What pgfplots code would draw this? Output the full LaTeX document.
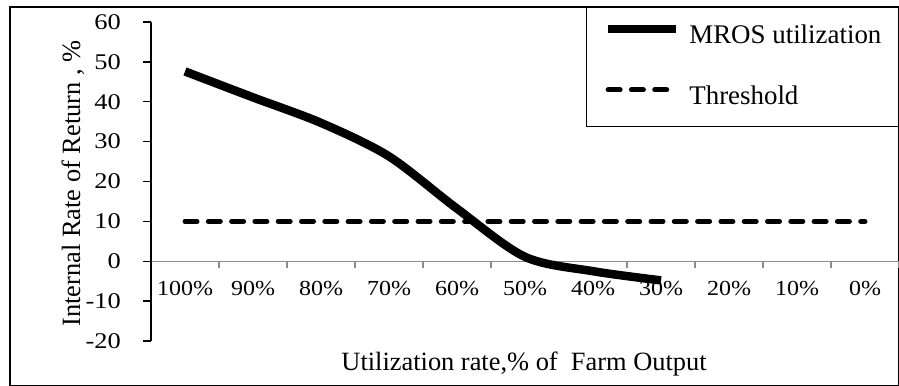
\documentclass[border=0pt]{standalone}
\usepackage{fontspec}
\setmainfont{Liberation Serif}
\newfontfamily\tickfont{Liberation Serif}[FakeStretch=1.12]
\newfontfamily\ytickfont{Liberation Serif}[FakeStretch=1.18]
\usepackage{pgfplots}
\pgfplotsset{compat=1.18}
\begin{document}
\begin{tikzpicture}
\useasboundingbox (0,0) rectangle (899bp,386bp);
\draw[line width=1.3bp] (10bp,0.6bp) rectangle (898.4bp,379bp);
\begin{axis}[
  at={(151bp,45bp)}, anchor=south west,
  scale only axis, width=748bp, height=319bp,
  xmin=-0.5, xmax=10.5, ymin=-20, ymax=60,
  axis x line=middle, axis y line=left,
  hide obscured x ticks=false, hide obscured y ticks=false,
  x axis line style={-, draw=black!45, line width=1.3bp},
  y axis line style={-, draw=black, line width=1.3bp},
  xtick={0,...,10},
  xticklabels={100\%,90\%,80\%,70\%,60\%,50\%,40\%,30\%,20\%,10\%,0\%},
  major x tick style={draw=none},
  minor xtick={-0.5,0.5,...,10.5},
  minor x tick style={draw=black!45, line width=1.3bp},
  xtick align=outside,
  minor tick length=7bp,
  ytick={-20,-10,...,60},
  ytick align=outside,
  major tick length=8bp,
  y tick style={draw=black, line width=1.3bp},
  /pgf/number format/assume math mode=true,
  x tick label style={font=\tickfont\fontsize{21.5}{24}\selectfont, yshift=-8bp},
  every y tick label/.append style={font=\ytickfont\fontsize{22.5}{24}\selectfont, anchor=east, inner sep=0pt, xshift=-22bp},
  xlabel={Utilization rate,\% of\ \ Farm Output},
  ylabel={Internal Rate of Return , \%},
  every axis x label/.style={at={(axis description cs:0.4987,-0.0931)}, anchor=base, font=\fontsize{26.5}{30}\selectfont},
  every axis y label/.style={at={(axis description cs:-0.0949,0.4937)}, rotate=90, anchor=base, font=\fontsize{26.5}{30}\selectfont},
  legend style={at={(axis description cs:1,1.047)}, anchor=north east, draw=black, line width=1.2bp, fill=white,
    font=\fontsize{27}{32}\selectfont, inner xsep=17bp, inner ysep=17bp, row sep=37bp,
    nodes={inner sep=0pt, text height=19bp, text depth=5bp},
    /tikz/every odd column/.append style={column sep=9bp}},
  legend cell align=left,
  legend image code/.code={\draw[#1] (0bp,8bp) -- (68bp,8bp);},
  clip=false,
]
\addplot[black, line width=8.5bp, smooth] coordinates {(0,47.6)(1,41.1)(2,34.7)(3,26.3)(4,13.2)(5,1.1)(6,-2.5)(7,-4.8)};
\addplot[black, line width=5bp, line cap=round, dash pattern=on 12bp off 11.3bp] coordinates {(0,10)(1,10)(2,10)(3,10)(4,10)(5,10)(6,10)(7,10)(8,10)(9,10)(10,10)};
\legend{MROS utilization, Threshold}
\end{axis}
\end{tikzpicture}
\end{document}
